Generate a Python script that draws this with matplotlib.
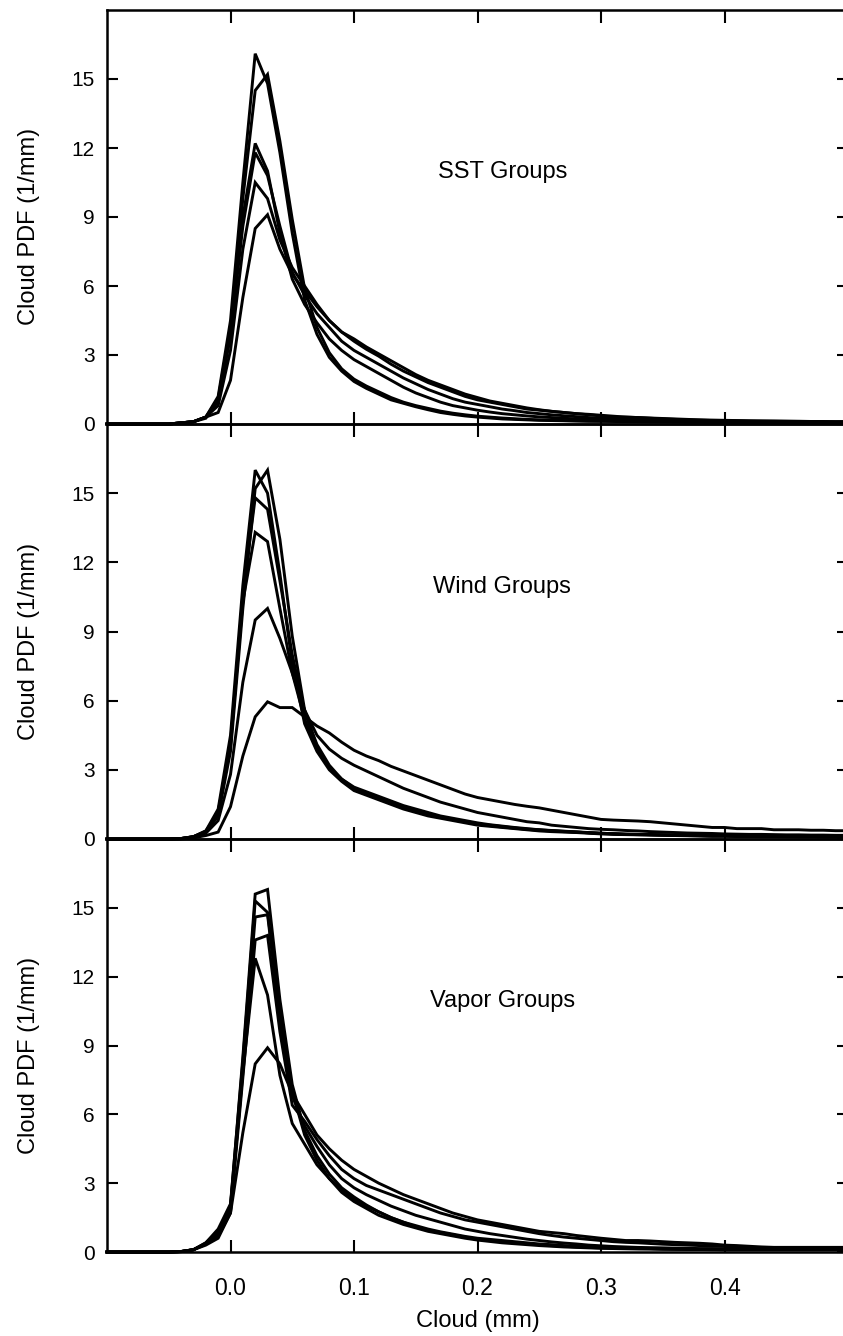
import matplotlib
matplotlib.use("Agg")
import matplotlib.pyplot as plt

# ---------------- data ----------------
cloud_mm = [-0.10, -0.09, -0.08, -0.07, -0.06, -0.05, -0.04, -0.03, -0.02, -0.01,
            0.00, 0.01, 0.02, 0.03, 0.04, 0.05, 0.06, 0.07, 0.08, 0.09,
            0.10, 0.11, 0.12, 0.13, 0.14, 0.15, 0.16, 0.17, 0.18, 0.19,
            0.20, 0.21, 0.22, 0.23, 0.24, 0.25, 0.26, 0.27, 0.28, 0.29,
            0.30, 0.31, 0.32, 0.33, 0.34, 0.35, 0.36, 0.37, 0.38, 0.39,
            0.40, 0.41, 0.42, 0.43, 0.44, 0.45, 0.46, 0.47, 0.48, 0.49,
            0.50]

sst_curves = [
    [0, 0, 0, 0, 0, 0, 0.05, 0.1, 0.3, 1.2,
     4.5, 10.5, 16.1, 14.8, 11.8, 8.3, 5.4, 3.9, 2.9, 2.3,
     1.85, 1.55, 1.3, 1.05, 0.9, 0.75, 0.62, 0.5, 0.42, 0.35,
     0.3, 0.26, 0.22, 0.2, 0.18, 0.16, 0.15, 0.14, 0.13, 0.12,
     0.12, 0.11, 0.1, 0.1, 0.09, 0.09, 0.08, 0.08, 0.08, 0.07,
     0.07, 0.07, 0.06, 0.06, 0.06, 0.06, 0.05, 0.05, 0.05, 0.05,
     0.05],
    [0, 0, 0, 0, 0, 0, 0.05, 0.1, 0.25, 1.0,
     4.0, 9.8, 14.5, 15.2, 12.3, 8.9, 5.9, 4.2, 3.1, 2.4,
     1.95, 1.65, 1.4, 1.15, 0.95, 0.8, 0.68, 0.56, 0.47, 0.4,
     0.34, 0.3, 0.26, 0.23, 0.2, 0.18, 0.17, 0.15, 0.14, 0.13,
     0.12, 0.12, 0.11, 0.1, 0.1, 0.09, 0.09, 0.08, 0.08, 0.08,
     0.07, 0.07, 0.07, 0.06, 0.06, 0.06, 0.06, 0.05, 0.05, 0.05,
     0.05],
    [0, 0, 0, 0, 0, 0, 0.05, 0.1, 0.3, 1.1,
     4.2, 9.0, 12.2, 11.0, 8.3, 6.3, 5.2, 4.4, 3.7, 3.2,
     2.8, 2.5, 2.2, 1.9, 1.6, 1.35, 1.15, 0.95, 0.8, 0.7,
     0.6, 0.52, 0.45, 0.4, 0.35, 0.31, 0.28, 0.25, 0.22, 0.2,
     0.18, 0.16, 0.15, 0.14, 0.13, 0.12, 0.11, 0.1, 0.1, 0.09,
     0.09, 0.08, 0.08, 0.08, 0.07, 0.07, 0.07, 0.06, 0.06, 0.06,
     0.06],
    [0, 0, 0, 0, 0, 0, 0.05, 0.1, 0.3, 1.0,
     3.8, 8.6, 11.8, 10.8, 8.6, 6.6, 5.6, 4.8, 4.2, 3.6,
     3.2, 2.9, 2.6, 2.3, 2.0, 1.75, 1.5, 1.3, 1.1, 0.95,
     0.85, 0.75, 0.65, 0.58, 0.5, 0.45, 0.4, 0.36, 0.32, 0.28,
     0.25, 0.22, 0.2, 0.19, 0.17, 0.16, 0.15, 0.14, 0.13, 0.12,
     0.11, 0.11, 0.1, 0.1, 0.09, 0.09, 0.09, 0.08, 0.08, 0.08,
     0.08],
    [0, 0, 0, 0, 0, 0, 0.05, 0.1, 0.3, 0.8,
     3.2, 7.6, 10.5, 9.8, 8.0, 6.8, 6.0, 5.2, 4.5, 4.0,
     3.6, 3.25, 2.95, 2.6, 2.3, 2.05, 1.8, 1.6, 1.4, 1.2,
     1.05, 0.95, 0.85, 0.75, 0.65, 0.6, 0.55, 0.5, 0.45, 0.4,
     0.35, 0.3, 0.3, 0.28, 0.25, 0.22, 0.2, 0.18, 0.17, 0.15,
     0.15, 0.14, 0.13, 0.13, 0.12, 0.12, 0.11, 0.11, 0.1, 0.1,
     0.1],
    [0, 0, 0, 0, 0, 0, 0.05, 0.1, 0.3, 0.5,
     1.9, 5.5, 8.5, 9.1, 7.6, 6.5, 5.8, 5.1, 4.5, 4.0,
     3.7, 3.35, 3.05, 2.75, 2.45, 2.15, 1.9, 1.7, 1.5, 1.3,
     1.15, 1.0, 0.9, 0.8, 0.7, 0.62, 0.55, 0.5, 0.45, 0.42,
     0.38, 0.34, 0.3, 0.28, 0.26, 0.24, 0.22, 0.2, 0.18, 0.17,
     0.16, 0.15, 0.14, 0.13, 0.13, 0.12, 0.12, 0.11, 0.11, 0.1,
     0.1],
]

wind_curves = [
    [0, 0, 0, 0, 0, 0, 0.02, 0.1, 0.35, 1.3,
     4.5, 11.0, 16.0, 15.0, 11.5, 7.6, 5.0, 3.8, 3.0, 2.5,
     2.1, 1.9, 1.7, 1.5, 1.3, 1.15, 1.0, 0.9, 0.8, 0.7,
     0.6, 0.55, 0.5, 0.45, 0.4, 0.35, 0.32, 0.3, 0.28, 0.25,
     0.22, 0.2, 0.19, 0.18, 0.17, 0.16, 0.15, 0.14, 0.13, 0.12,
     0.12, 0.11, 0.11, 0.1, 0.1, 0.1, 0.09, 0.09, 0.09, 0.08,
     0.08],
    [0, 0, 0, 0, 0, 0, 0.02, 0.1, 0.3, 1.0,
     3.8, 10.0, 15.2, 16.0, 13.0, 8.8, 5.6, 4.0, 3.1, 2.55,
     2.15, 1.95, 1.75, 1.55, 1.35, 1.2, 1.05, 0.95, 0.85, 0.75,
     0.65, 0.58, 0.52, 0.47, 0.42, 0.38, 0.35, 0.32, 0.3, 0.27,
     0.24, 0.22, 0.2, 0.19, 0.18, 0.17, 0.16, 0.15, 0.14, 0.13,
     0.13, 0.12, 0.12, 0.11, 0.11, 0.1, 0.1, 0.1, 0.09, 0.09,
     0.09],
    [0, 0, 0, 0, 0, 0, 0.02, 0.1, 0.35, 1.1,
     4.2, 10.3, 13.3, 12.9, 10.0, 7.2, 5.2, 3.9, 3.1, 2.6,
     2.25, 2.05, 1.85, 1.65, 1.45, 1.3, 1.15, 1.0, 0.9, 0.8,
     0.7, 0.62, 0.56, 0.5, 0.45, 0.4, 0.37, 0.34, 0.31, 0.28,
     0.25, 0.23, 0.21, 0.2, 0.19, 0.18, 0.17, 0.16, 0.15, 0.14,
     0.14, 0.13, 0.13, 0.12, 0.12, 0.11, 0.11, 0.11, 0.1, 0.1,
     0.1],
    [0, 0, 0, 0, 0, 0, 0.02, 0.1, 0.3, 1.2,
     4.0, 10.6, 14.8, 14.3, 11.2, 8.0, 5.5, 4.1, 3.2, 2.6,
     2.2, 1.95, 1.8, 1.6, 1.4, 1.25, 1.1, 0.95, 0.85, 0.75,
     0.65, 0.6, 0.54, 0.48, 0.43, 0.4, 0.36, 0.33, 0.3, 0.27,
     0.25, 0.23, 0.21, 0.2, 0.19, 0.18, 0.17, 0.16, 0.15, 0.14,
     0.14, 0.13, 0.13, 0.12, 0.12, 0.11, 0.11, 0.11, 0.1, 0.1,
     0.1],
    [0, 0, 0, 0, 0, 0, 0.02, 0.08, 0.25, 0.8,
     2.8, 6.8, 9.5, 10.0, 8.7, 7.2, 5.6, 4.5, 3.9, 3.5,
     3.2, 2.95, 2.7, 2.45, 2.2, 2.0, 1.8, 1.6, 1.45, 1.3,
     1.15, 1.05, 0.95, 0.85, 0.75, 0.7, 0.6, 0.55, 0.5, 0.45,
     0.42, 0.4, 0.37, 0.35, 0.32, 0.3, 0.28, 0.26, 0.25, 0.24,
     0.22, 0.21, 0.2, 0.2, 0.19, 0.18, 0.18, 0.17, 0.17, 0.16,
     0.16],
    [0, 0, 0, 0, 0, 0, 0.0, 0.05, 0.15, 0.3,
     1.4, 3.6, 5.3, 5.95, 5.7, 5.7, 5.3, 4.9, 4.6, 4.2,
     3.85, 3.6, 3.4, 3.15, 2.95, 2.75, 2.55, 2.35, 2.15, 1.95,
     1.8, 1.7, 1.6, 1.5, 1.42, 1.35, 1.25, 1.15, 1.05, 0.95,
     0.85, 0.82, 0.8, 0.78, 0.75, 0.7, 0.65, 0.6, 0.55, 0.5,
     0.5, 0.45, 0.45, 0.45, 0.4, 0.4, 0.4, 0.38, 0.38, 0.36,
     0.36],
]

vapor_curves = [
    [0, 0, 0, 0, 0, 0, 0.02, 0.1, 0.4, 0.9,
     2.0, 8.5, 15.6, 15.8, 11.0, 7.3, 5.3, 4.2, 3.4, 2.8,
     2.4, 2.05, 1.75, 1.5, 1.3, 1.1, 0.95, 0.85, 0.75, 0.65,
     0.55, 0.5, 0.45, 0.4, 0.36, 0.32, 0.28, 0.25, 0.22, 0.2,
     0.18, 0.17, 0.16, 0.15, 0.14, 0.13, 0.12, 0.12, 0.11, 0.11,
     0.1, 0.1, 0.1, 0.1, 0.1, 0.1, 0.1, 0.1, 0.1, 0.1,
     0.1],
    [0, 0, 0, 0, 0, 0, 0.02, 0.1, 0.4, 1.0,
     2.1, 8.3, 15.3, 14.8, 10.6, 7.0, 5.1, 4.0, 3.2, 2.6,
     2.2, 1.9, 1.6, 1.4, 1.2, 1.05, 0.9, 0.8, 0.7, 0.6,
     0.52, 0.46, 0.4, 0.36, 0.32, 0.28, 0.25, 0.22, 0.2, 0.18,
     0.16, 0.15, 0.14, 0.13, 0.13, 0.12, 0.12, 0.11, 0.11, 0.1,
     0.1, 0.1, 0.1, 0.1, 0.1, 0.1, 0.1, 0.1, 0.1, 0.1,
     0.1],
    [0, 0, 0, 0, 0, 0, 0.02, 0.1, 0.35, 0.8,
     1.8, 8.0, 14.6, 14.7, 10.2, 6.8, 5.5, 4.6, 3.8, 3.2,
     2.8, 2.5, 2.25, 2.0, 1.8, 1.6, 1.45, 1.3, 1.15, 1.0,
     0.9, 0.8, 0.72, 0.64, 0.56, 0.5, 0.44, 0.39, 0.35, 0.3,
     0.27, 0.24, 0.22, 0.2, 0.19, 0.18, 0.17, 0.16, 0.15, 0.15,
     0.14, 0.14, 0.13, 0.13, 0.13, 0.12, 0.12, 0.12, 0.12, 0.12,
     0.12],
    [0, 0, 0, 0, 0, 0, 0.02, 0.1, 0.35, 0.7,
     1.7, 7.6, 13.6, 13.8, 9.6, 6.4, 5.7, 4.9, 4.2, 3.6,
     3.2, 2.9, 2.7, 2.5, 2.3, 2.1, 1.9, 1.7, 1.55, 1.4,
     1.3, 1.2, 1.1, 1.0, 0.9, 0.8, 0.72, 0.65, 0.6, 0.55,
     0.5, 0.45, 0.42, 0.4, 0.37, 0.34, 0.32, 0.3, 0.28, 0.26,
     0.24, 0.22, 0.2, 0.2, 0.2, 0.2, 0.2, 0.2, 0.2, 0.2,
     0.2],
    [0, 0, 0, 0, 0, 0, 0.02, 0.1, 0.35, 0.9,
     2.0, 7.8, 12.8, 11.2, 7.7, 5.6, 4.7, 3.8, 3.2, 2.7,
     2.3, 2.0, 1.75, 1.5, 1.3, 1.15, 1.0, 0.88, 0.78, 0.68,
     0.6, 0.55, 0.5, 0.45, 0.4, 0.35, 0.32, 0.28, 0.25, 0.22,
     0.2, 0.18, 0.17, 0.16, 0.15, 0.14, 0.13, 0.12, 0.12, 0.11,
     0.1, 0.1, 0.1, 0.1, 0.1, 0.1, 0.1, 0.1, 0.1, 0.1,
     0.1],
    [0, 0, 0, 0, 0, 0, 0.02, 0.1, 0.3, 0.6,
     1.7, 5.2, 8.2, 8.9, 8.2, 6.9, 6.0, 5.1, 4.5, 4.0,
     3.6, 3.3, 3.0, 2.75, 2.5, 2.3, 2.1, 1.9, 1.7, 1.55,
     1.4, 1.3, 1.2, 1.1, 1.0, 0.9, 0.85, 0.8, 0.72, 0.66,
     0.6, 0.55, 0.5, 0.5, 0.48, 0.45, 0.42, 0.4, 0.38, 0.35,
     0.3, 0.28, 0.25, 0.22, 0.2, 0.2, 0.2, 0.2, 0.2, 0.2,
     0.2],
]

panel_labels = ["SST Groups", "Wind Groups", "Vapor Groups"]
panel_data = [sst_curves, wind_curves, vapor_curves]
y_ticks = [0, 3, 6, 9, 12, 15]
x_ticks = [0.0, 0.1, 0.2, 0.3, 0.4]
x_tick_labels = ["0.0", "0.1", "0.2", "0.3", "0.4"]
y_label = "Cloud PDF (1/mm)"
x_label = "Cloud (mm)"

# ---------------- figure ----------------
plt.rcParams['font.family'] = ['Liberation Sans', 'DejaVu Sans']
W, H = 843, 1336
fig = plt.figure(figsize=(W / 100, H / 100), dpi=100)

left_px, right_px = 107, 848
panels_px = [(10, 424), (424, 839), (839, 1252)]
tick_fs = 15
xtick_fs = 16.5
label_fs = 17

for i, (top, bot) in enumerate(panels_px):
    ax = fig.add_axes([left_px / W, 1 - bot / H,
                       (right_px - left_px) / W, (bot - top) / H])
    for curve in panel_data[i]:
        ax.plot(cloud_mm, curve, color='black', lw=2.1,
                solid_joinstyle='miter', clip_on=False, zorder=3)
    ax.set_xlim(-0.1, 0.5)
    ax.set_ylim(0, 18)
    ax.set_xticks(x_ticks)
    ax.set_yticks(y_ticks)
    ax.tick_params(axis='x', direction='in', top=True, bottom=True,
                   length=9, width=1.5, labelsize=xtick_fs, pad=18)
    ax.tick_params(axis='y', direction='in', left=True, right=True,
                   length=8, width=1.5, labelsize=tick_fs, pad=9)
    if i == 2:
        ax.set_xticklabels(x_tick_labels)
        ax.set_xlabel(x_label, fontsize=label_fs, labelpad=7)
    else:
        ax.set_xticklabels([])
    ax.set_ylabel(y_label, fontsize=label_fs)
    ax.yaxis.set_label_coords(-0.090, 0.476)
    for side in ['left', 'top', 'bottom']:
        ax.spines[side].set_linewidth(1.8)
    ax.spines['right'].set_visible(False)
    ax.patch.set_alpha(0)
    ax.text(0.22, 10.95, panel_labels[i], fontsize=label_fs,
            ha='center', va='center')

fig.savefig("out.png", dpi=100)
